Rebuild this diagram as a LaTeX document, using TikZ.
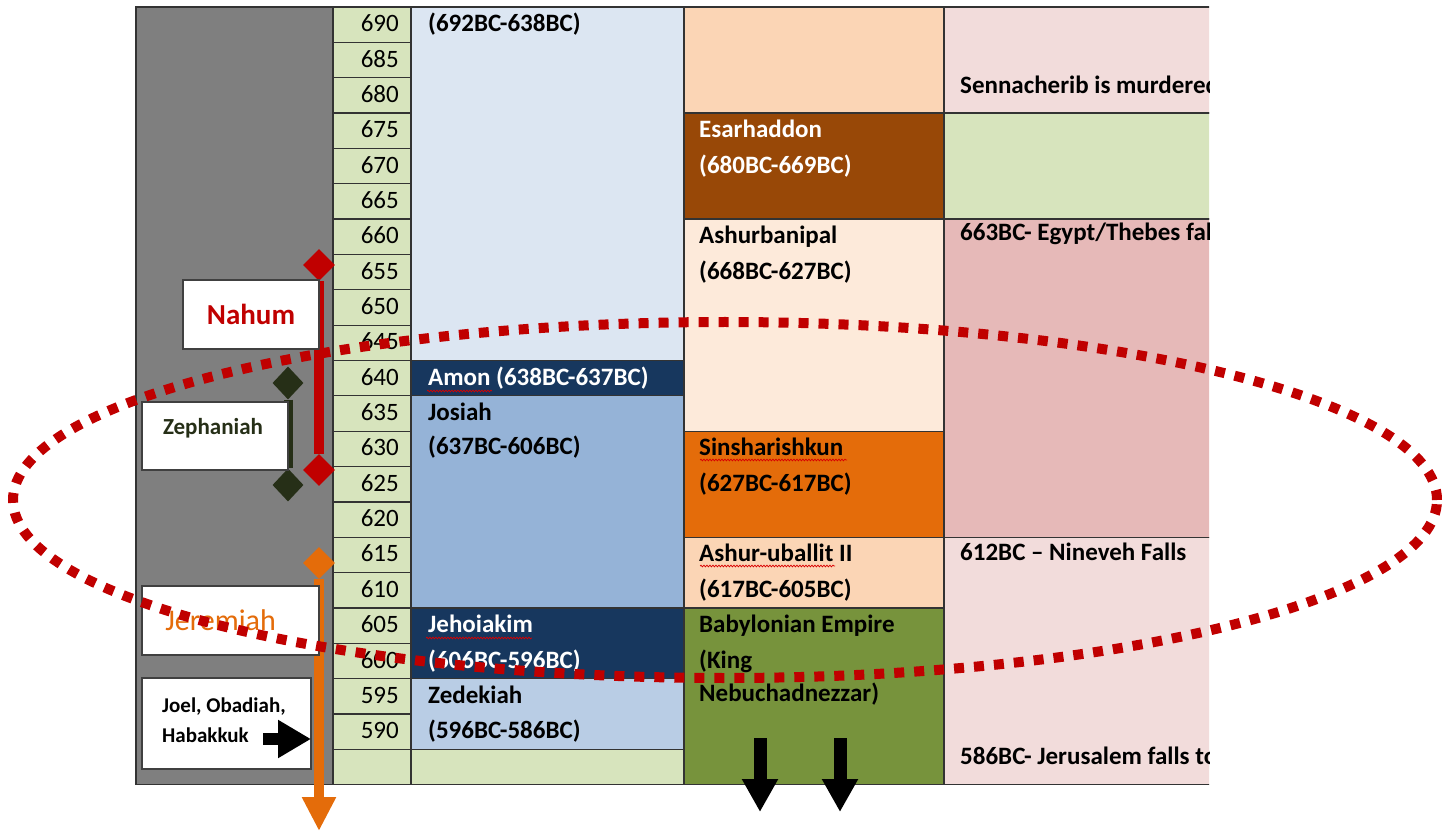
\documentclass[tikz,border=0pt]{standalone}
\usepackage{fontspec}
\setmainfont{Carlito}
\usetikzlibrary{shapes.geometric,arrows.meta,decorations.pathmorphing}
\definecolor{grayband}{HTML}{7F7F7F}
\definecolor{yeargreen}{HTML}{D7E4BD}
\definecolor{kingpale}{HTML}{DCE6F2}
\definecolor{kingnavy}{HTML}{17375E}
\definecolor{kingmid}{HTML}{95B3D7}
\definecolor{kinglight}{HTML}{B9CDE5}
\definecolor{assypeach}{HTML}{FBD5B5}
\definecolor{assybrown}{HTML}{984807}
\definecolor{assycream}{HTML}{FDEADA}
\definecolor{assyorange}{HTML}{E46C0A}
\definecolor{babgreen}{HTML}{77933C}
\definecolor{eventpink}{HTML}{F2DCDB}
\definecolor{eventrose}{HTML}{E6B9B8}
\definecolor{nahumred}{HTML}{C00000}
\definecolor{zephdark}{HTML}{262F17}
\definecolor{jerorange}{HTML}{E46C0A}
\begin{document}
\begin{tikzpicture}[x=1pt,y=-1pt,
    cell/.style={draw=black!80,line width=1.2pt},
    lbl/.style={anchor=west,inner sep=0pt,text height=16pt,text depth=2pt,font=\fontsize{25}{28}\selectfont\bfseries},
    yearlbl/.style={anchor=east,inner sep=0pt,text height=16pt,text depth=2pt,font=\fontsize{25}{28}\selectfont},
    pbox/.style={draw=black!75,fill=white,line width=1.5pt,inner sep=0pt},
    squiggle/.style={draw=red!85!black,line width=0.7pt,decorate,decoration={snake,amplitude=0.9pt,segment length=3pt}},
    blockarrow/.style={line width=13pt,-{Triangle[width=34pt,length=33pt]}}]
\useasboundingbox (0,0) rectangle (1444,834);
% columns of the table
\draw[cell,fill=grayband] (136,7) rectangle (333,784.7);
\foreach \i in {0,...,21}
  \draw[cell,fill=yeargreen] (333,{7+35.35*\i}) rectangle (411,{42.35+35.35*\i});
\foreach \yr [count=\i from 0] in {690,685,...,590}
  \node[yearlbl] (y\yr) at (399,{24.7+35.35*\i}) {\yr};
\draw[cell,fill=kingpale] (411,7) rectangle (684,360.5);
\draw[cell,fill=kingnavy] (411,360.5) rectangle (684,395.85);
\draw[cell,fill=kingmid] (411,395.85) rectangle (684,607.95);
\draw[cell,fill=kingnavy] (411,607.95) rectangle (684,678.65);
\draw[cell,fill=kinglight] (411,678.65) rectangle (684,749.35);
\draw[cell,fill=yeargreen] (411,749.35) rectangle (684,784.7);
\draw[cell,fill=assypeach] (684,7) rectangle (944,113.05);
\draw[cell,fill=assybrown] (684,113.05) rectangle (944,219.1);
\draw[cell,fill=assycream] (684,219.1) rectangle (944,431.2);
\draw[cell,fill=assyorange] (684,431.2) rectangle (944,537.25);
\draw[cell,fill=assypeach] (684,537.25) rectangle (944,607.95);
\draw[cell,fill=babgreen] (684,607.95) rectangle (944,784.7);
\node[lbl] (manasseh) at (428,24.7) {(692BC-638BC)};
\node[lbl,text=white] (amon) at (428,378.2) {Amon (638BC-637BC)};
\node[lbl] (josiah) at (428,413.5) {Josiah};
\node[lbl] (josiahyr) at (428,447) {(637BC-606BC)};
\node[lbl,text=white] (jehoiakim) at (428,625.6) {Jehoiakim};
\node[lbl,text=white] (jehoiakimyr) at (428,661) {(606BC-596BC)};
\node[lbl] (zedekiah) at (428,696.3) {Zedekiah};
\node[lbl] (zedekiahyr) at (428,731.7) {(596BC-586BC)};
\node[lbl,text=white] (esarhaddon) at (699,130.7) {Esarhaddon};
\node[lbl,text=white] (esarhaddonyr) at (699,166.1) {(680BC-669BC)};
\node[lbl] (ashurbanipal) at (699,236.8) {Ashurbanipal};
\node[lbl] (ashurbanipalyr) at (699,272.1) {(668BC-627BC)};
\node[lbl] (sinshar) at (699,448.9) {Sinsharishkun};
\node[lbl] (sinsharyr) at (699,484.2) {(627BC-617BC)};
\node[lbl] (uballit) at (699,554.9) {Ashur-uballit II};
\node[lbl] (uballityr) at (699,590.3) {(617BC-605BC)};
\node[lbl] (babylon) at (699,625.6) {Babylonian Empire};
\node[lbl] (babking) at (699,661) {(King};
\node[lbl] (babnebu) at (699,694) {Nebuchadnezzar)};
\draw[squiggle] (427,391) -- (492,391);
\draw[squiggle] (426,638) -- (532,638);
\draw[squiggle] (700,460) -- (847,460);
\draw[squiggle] (700,566) -- (835,566);
\begin{scope}
\clip (944,0) rectangle (1209,834);
\draw[cell,fill=eventpink] (944,7) rectangle (1230,113.05);
\draw[cell,fill=yeargreen] (944,113.05) rectangle (1230,219.1);
\draw[cell,fill=eventrose] (944,219.1) rectangle (1230,537.25);
\draw[cell,fill=eventpink] (944,537.25) rectangle (1230,784.7);
\node[lbl] (sennacherib) at (960,87) {Sennacherib is murdered};
\node[lbl] (thebes) at (960,234) {663BC- Egypt/Thebes falls};
\node[lbl] (nineveh) at (960,553) {612BC -- Nineveh Falls};
\node[lbl] (jerusalem) at (960,757) {586BC- Jerusalem falls to};
\end{scope}
% prophets
\node[diamond,fill=nahumred,minimum width=32pt,minimum height=32pt,inner sep=0pt] (nahumtop) at (319,265) {};
\node[diamond,fill=nahumred,minimum width=32pt,minimum height=32pt,inner sep=0pt] (nahumend) at (319,470) {};
\draw[nahumred,line width=10pt] (nahumtop) -- (nahumend);
\node[diamond,fill=zephdark,minimum width=31pt,minimum height=33pt,inner sep=0pt] (zephtop) at (288,383) {};
\node[diamond,fill=zephdark,minimum width=31pt,minimum height=33pt,inner sep=0pt] (zephend) at (288,485) {};
\draw[zephdark,line width=9pt] (zephtop) -- (zephend);
\node[diamond,fill=jerorange,minimum width=32pt,minimum height=32pt,inner sep=0pt] (jertop) at (319,563) {};
\coordinate (jertip) at (319,831);
\draw[jerorange,line width=10pt,-{Triangle[width=32pt,length=34pt]}] (jertop) -- (jertip);
\node[pbox,minimum width=136pt,minimum height=69pt] (nahumbox) at (251,314.5) {\fontsize{29}{32}\selectfont\bfseries\color{nahumred}Nahum};
\node[pbox,minimum width=146pt,minimum height=68pt] (zephbox) at (215,436) {};
\node[inner sep=0pt,font=\fontsize{23}{26}\selectfont\bfseries,text=zephdark] (zephtxt) at (213,428) {Zephaniah};
\node[pbox,minimum width=177pt,minimum height=69pt] (jerbox) at (230.5,620.5) {\hspace*{-20pt}\fontsize{30}{32}\selectfont\color{jerorange}Jeremiah};
\node[pbox,minimum width=169pt,minimum height=91pt] (joelbox) at (226.5,723.5) {};
\node[anchor=west,inner sep=0pt,align=left,font=\fontsize{21}{30}\selectfont\bfseries] (joeltxt) at (162,720) {Joel, Obadiah,\\Habakkuk};
\coordinate (joeltail) at (263,739);
\coordinate (joeltip) at (311,739);
\draw[line width=12pt,-{Triangle[width=36pt,length=33pt]}] (joeltail) -- (joeltip);
% arrows out of the Babylonian cell
\coordinate (babtail1) at (760,738);
\coordinate (babtip1) at (760,812);
\coordinate (babtail2) at (840,738);
\coordinate (babtip2) at (840,812);
\draw[blockarrow] (babtail1) -- (babtip1);
\draw[blockarrow] (babtail2) -- (babtip2);
% dotted ring round the fall of Assyria
\draw[nahumred,line width=10pt,dash pattern=on 10pt off 10pt] (725,500) ellipse [x radius=712pt,y radius=178pt];
\end{tikzpicture}
\end{document}
